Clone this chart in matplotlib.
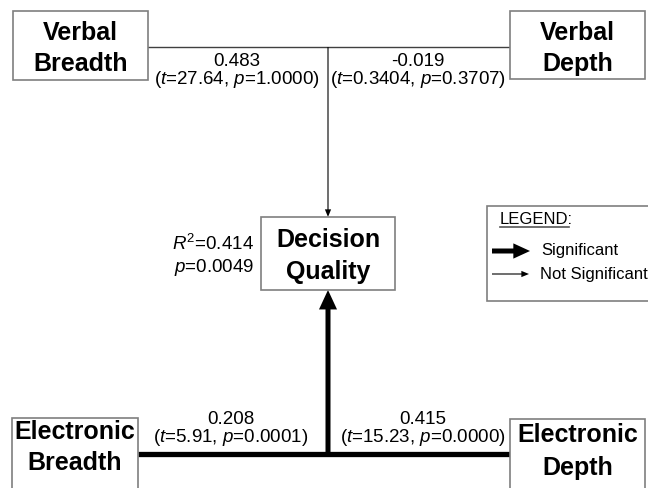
import matplotlib.pyplot as plt
from matplotlib.patches import Rectangle, FancyArrowPatch

plt.rcParams['font.family'] = ['Liberation Sans', 'DejaVu Sans']
plt.rcParams['mathtext.fontset'] = 'custom'
plt.rcParams['mathtext.rm'] = 'Liberation Sans'
plt.rcParams['mathtext.it'] = 'Liberation Sans:italic'

# path model data
predictors = ['Verbal\nBreadth', 'Verbal\nDepth', 'Electronic\nBreadth', 'Electronic\nDepth']
outcome = 'Decision\nQuality'
coefs = ['0.483', '-0.019', '0.208', '0.415']
t_vals = ['27.64', '0.3404', '5.91', '15.23']
p_vals = ['1.0000', '0.3707', '0.0001', '0.0000']
significant = [False, False, True, True]
r_squared = '0.414'
r_p = '0.0049'

fig = plt.figure(figsize=(6.48, 4.89), dpi=100)
ax = fig.add_axes([0, 0, 1, 1])
ax.set_xlim(0, 648)
ax.set_ylim(489, 0)
ax.axis('off')

box_ec = '#7f7f7f'
line_c = '#404040'
thick = 'simple,head_length=14,head_width=13,tail_width=3.6'
thin = 'simple,head_length=5.5,head_width=4.5,tail_width=0.8'


def arrow(p0, p1, style, z=2):
    ax.add_patch(FancyArrowPatch(p0, p1, arrowstyle=style, mutation_scale=1,
                                 color='black', lw=0, shrinkA=0, shrinkB=0, zorder=z))


# node boxes: (x0, y0, w, h)
boxes = [(13, 12, 135, 69), (510, 12, 135, 68), (12, 419, 126, 90), (510, 420, 135, 90)]
text_y = [(33, 64), (33, 64), (432, 463), (435, 468)]
for (x0, y0, w, h), name, (ty1, ty2) in zip(boxes, predictors, text_y):
    ax.add_patch(Rectangle((x0, y0), w, h, fc='white', ec=box_ec, lw=1.2, zorder=3))
    l1, l2 = name.split('\n')
    ax.text(x0 + w / 2, ty1, l1, ha='center', va='center', fontsize=18, fontweight='bold', zorder=4)
    ax.text(x0 + w / 2, ty2, l2, ha='center', va='center', fontsize=18, fontweight='bold', zorder=4)

# outcome box
ax.add_patch(Rectangle((261, 218), 134, 73, fc='white', ec=box_ec, lw=1.2, zorder=3))
o1, o2 = outcome.split('\n')
ax.text(328, 240, o1, ha='center', va='center', fontsize=18, fontweight='bold', zorder=4)
ax.text(328, 272, o2, ha='center', va='center', fontsize=18, fontweight='bold', zorder=4)

# top (not significant) paths
ax.plot([148, 510], [48, 48], color=line_c, lw=1, zorder=2)
arrow((328, 48), (328, 218), thin)

# bottom (significant) paths
ax.plot([138, 510], [455, 455], color='black', lw=3.8, solid_capstyle='butt', zorder=2)
arrow((328, 457), (328, 291), thick)

# path labels
label_pos = [(237, 61, 79), (418, 61, 79), (231, 419, 437), (423, 419, 437)]
for (cx, y1, y2), b, t, p in zip(label_pos, coefs, t_vals, p_vals):
    ax.text(cx, y1, b, ha='center', va='center', fontsize=13.5)
    ax.text(cx, y2, r'($\mathit{t}$=' + t + r', $\mathit{p}$=' + p + ')',
            ha='center', va='center', fontsize=13.5)

# model fit
ax.text(254, 244, r'$\mathit{R}^{\mathrm{2}}$=' + r_squared, ha='right', va='center', fontsize=13.5)
ax.text(254, 267, r'$\mathit{p}$=' + r_p, ha='right', va='center', fontsize=13.5)

# legend
ax.add_patch(Rectangle((487, 207), 200, 95, fc='white', ec=box_ec, lw=1.2, zorder=1))
ax.text(500, 220, 'LEGEND:', ha='left', va='center', fontsize=12)
ax.plot([500, 569], [228, 228], color='#555555', lw=1.2)
arrow((492, 252), (530, 252), 'simple,head_length=12,head_width=11,tail_width=3.6')
ax.text(541, 251, 'Significant', ha='left', va='center', fontsize=12)
arrow((492, 275), (529, 275), thin)
ax.text(540, 275, 'Not Significant', ha='left', va='center', fontsize=12)

fig.savefig('out.png', dpi=100)
